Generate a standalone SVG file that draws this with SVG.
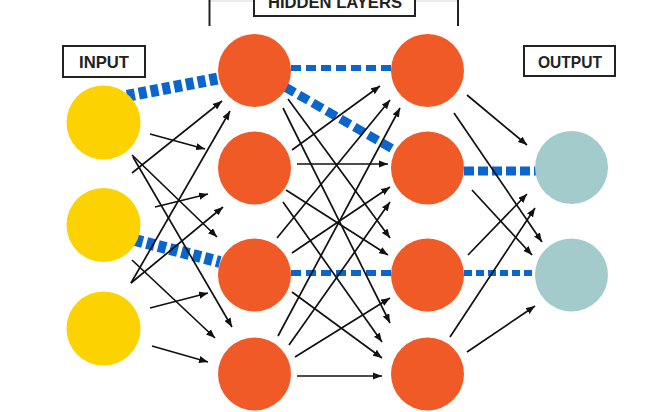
<svg xmlns="http://www.w3.org/2000/svg" width="666" height="412" viewBox="0 0 666 412">
<defs>
<marker id="ah" viewBox="0 0 10 8" markerWidth="9" markerHeight="7.2" refX="10" refY="4" orient="auto" markerUnits="userSpaceOnUse">
<path d="M0,0 L10,4 L0,8 z" fill="#111"/>
</marker>
<style>
.a{stroke:#111;stroke-width:1.7;fill:none;marker-end:url(#ah)}
.b{stroke:#0a66cc;fill:none}
.in{fill:#fcd200}
.hid{fill:#f05a26}
.out{fill:#a3cbcb}
.box{fill:#fff;stroke:#222;stroke-width:2}
.lbl{font-family:"Liberation Sans",Arial,sans-serif;font-weight:bold;font-size:17px;fill:#222;text-anchor:middle}
</style>
</defs>
<rect width="666" height="412" fill="#fff"/>
<g id="hidden-label">
<line x1="209" y1="1" x2="458" y2="1" stroke="#d8d8d8" stroke-width="1"/>
<path d="M209.5,0 V26 M458,0 V26" stroke="#222" stroke-width="2" fill="none"/>
<rect class="box" x="254" y="-16" width="161" height="32"/>
<text class="lbl" x="335" y="7.5" textLength="134" lengthAdjust="spacingAndGlyphs">HIDDEN LAYERS</text>
</g>
<g id="input-label">
<rect class="box" x="63" y="46" width="82" height="31"/>
<text class="lbl" x="104" y="68" textLength="50" lengthAdjust="spacingAndGlyphs">INPUT</text>
</g>
<g id="output-label">
<rect class="box" x="524" y="46" width="91" height="30"/>
<text class="lbl" x="570" y="68" textLength="64" lengthAdjust="spacingAndGlyphs">OUTPUT</text>
</g>
<g id="connectors">
<line class="b" x1="127" y1="96" x2="220" y2="78" stroke-width="12" stroke-dasharray="8 4"/>
<line class="b" x1="135" y1="240" x2="220" y2="262" stroke-width="12" stroke-dasharray="8 4"/>
<line class="b" x1="291" y1="68" x2="391" y2="68" stroke-width="6" stroke-dasharray="10 5"/>
<line class="b" x1="285" y1="87" x2="398" y2="152" stroke-width="9" stroke-dasharray="11 5"/>
<line class="b" x1="291" y1="273" x2="391" y2="273" stroke-width="6" stroke-dasharray="10 5"/>
<line class="b" x1="464" y1="171" x2="536" y2="171" stroke-width="9" stroke-dasharray="10 4"/>
<line class="b" x1="464" y1="273" x2="536" y2="273" stroke-width="6" stroke-dasharray="8 4"/>
<line class="a" x1="150" y1="134" x2="205" y2="149"/>
<line class="a" x1="132" y1="155" x2="217" y2="237"/>
<line class="a" x1="133" y1="157" x2="232" y2="327"/>
<line class="a" x1="132" y1="173" x2="222" y2="101"/>
<line class="a" x1="155" y1="207" x2="208" y2="194"/>
<line class="a" x1="132" y1="260" x2="215" y2="338"/>
<line class="a" x1="131" y1="283" x2="230" y2="111"/>
<line class="a" x1="131" y1="283" x2="223" y2="207"/>
<line class="a" x1="150" y1="308" x2="208" y2="293"/>
<line class="a" x1="152" y1="346" x2="208" y2="362"/>
<line class="a" x1="292" y1="150" x2="380" y2="86"/>
<line class="a" x1="277" y1="238" x2="390" y2="100"/>
<line class="a" x1="278" y1="336" x2="400" y2="108"/>
<line class="a" x1="297" y1="164" x2="388" y2="164"/>
<line class="a" x1="292" y1="253" x2="390" y2="187"/>
<line class="a" x1="289" y1="345" x2="390" y2="202"/>
<line class="a" x1="288" y1="99" x2="390" y2="238"/>
<line class="a" x1="286" y1="190" x2="388" y2="255"/>
<line class="a" x1="295" y1="357" x2="390" y2="298"/>
<line class="a" x1="283" y1="108" x2="390" y2="323"/>
<line class="a" x1="283" y1="202" x2="382" y2="342"/>
<line class="a" x1="292" y1="292" x2="382" y2="358"/>
<line class="a" x1="297" y1="376" x2="382" y2="376"/>
<line class="a" x1="467" y1="95" x2="527" y2="145"/>
<line class="a" x1="454" y1="113" x2="542" y2="242"/>
<line class="a" x1="472" y1="190" x2="532" y2="255"/>
<line class="a" x1="468" y1="255" x2="527" y2="194"/>
<line class="a" x1="450" y1="337" x2="535" y2="208"/>
<line class="a" x1="467" y1="352" x2="535" y2="306"/>
</g>
<g id="in1"><circle class="in" cx="103.5" cy="122.5" r="37"/></g>
<g id="in2"><circle class="in" cx="103.5" cy="225" r="37"/></g>
<g id="in3"><circle class="in" cx="103.5" cy="328.5" r="37"/></g>
<g id="h1a"><circle class="hid" cx="254.5" cy="70.5" r="36.5"/></g>
<g id="h1b"><circle class="hid" cx="254.5" cy="168" r="36.5"/></g>
<g id="h1c"><circle class="hid" cx="254.5" cy="275" r="36.5"/></g>
<g id="h1d"><circle class="hid" cx="254.5" cy="374" r="36.5"/></g>
<g id="h2a"><circle class="hid" cx="427.5" cy="70.5" r="36.5"/></g>
<g id="h2b"><circle class="hid" cx="427.5" cy="168" r="36.5"/></g>
<g id="h2c"><circle class="hid" cx="427.5" cy="275" r="36.5"/></g>
<g id="h2d"><circle class="hid" cx="427.5" cy="374" r="36.5"/></g>
<g id="o1"><circle class="out" cx="571.5" cy="167.5" r="36.5"/></g>
<g id="o2"><circle class="out" cx="571.5" cy="275" r="36.5"/></g>
</svg>
